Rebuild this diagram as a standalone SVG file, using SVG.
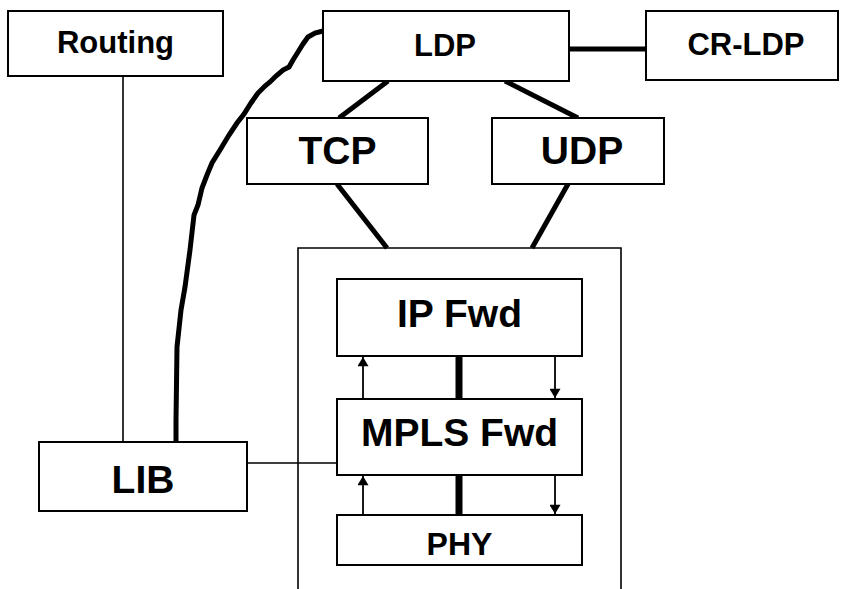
<svg xmlns="http://www.w3.org/2000/svg" width="845" height="589" viewBox="0 0 845 589">
<defs>
<style>
.box{fill:#fff;stroke:#000;stroke-width:2}
.t{font-family:"Liberation Sans",Arial,sans-serif;font-weight:bold;fill:#000;text-anchor:middle}
.s{font-size:31px}
.l{font-size:39px}
.p{font-size:32px}
.thin{stroke:#000;stroke-width:1.6;fill:none}
.thick{stroke:#000;stroke-width:5;fill:none}
.bar{stroke:#000;stroke-width:7;fill:none}
.arr{stroke:#000;stroke-width:1.8;fill:none}
</style>
<marker id="ah" viewBox="0 0 10 12" refX="10" refY="6" markerWidth="11" markerHeight="11" markerUnits="userSpaceOnUse" orient="auto">
<path d="M0,0 L10,6 L0,12 Z" fill="#000"/>
</marker>
</defs>
<rect width="845" height="589" fill="#fff"/>
<g id="connectors">
<line class="thin" x1="123" y1="76" x2="123" y2="442"/>
<line class="thin" x1="247" y1="463" x2="337" y2="463"/>
<line class="thick" x1="569" y1="49" x2="646" y2="49"/>
<line class="thick" x1="388" y1="81" x2="339" y2="118"/>
<line class="thick" x1="505" y1="81" x2="578" y2="118"/>
<line class="thick" x1="337" y1="184" x2="387" y2="248"/>
<line class="thick" x1="568" y1="184" x2="532" y2="248"/>
<path class="thick" d="M176,442 L176,420 L177,347 L181,310 L185,287 L190,250 L194,215 L198,205 L202,188 L207,175 L212,163 L220,150 L229,135 L237,123 L244,114 L251,103 L258,93 L265,86 L270,82 L276,76 L283,70 L289,67 L293,60 L298,52 L303,44 L308,37 L315,33 L323,31"/>
<line class="bar" x1="459" y1="356" x2="459" y2="399"/>
<line class="bar" x1="459" y1="475" x2="459" y2="515"/>
<line class="arr" x1="363" y1="399" x2="363" y2="357" marker-end="url(#ah)"/>
<line class="arr" x1="555" y1="356" x2="555" y2="398" marker-end="url(#ah)"/>
<line class="arr" x1="363" y1="515" x2="363" y2="476" marker-end="url(#ah)"/>
<line class="arr" x1="555" y1="475" x2="555" y2="514" marker-end="url(#ah)"/>
</g>
<g id="container">
<path class="thin" d="M298,589 L298,248 L621,248 L621,589" stroke-width="2"/>
</g>
<g id="routing">
<rect class="box" x="8" y="11" width="215" height="65"/>
<text class="t s" x="115.5" y="53">Routing</text>
</g>
<g id="ldp">
<rect class="box" x="323" y="11" width="246" height="70"/>
<text class="t s" x="445" y="56">LDP</text>
</g>
<g id="crldp">
<rect class="box" x="646" y="11" width="192" height="69"/>
<text class="t s" x="746" y="55">CR-LDP</text>
</g>
<g id="tcp">
<rect class="box" x="247" y="118" width="181" height="66"/>
<text class="t l" x="337.5" y="164">TCP</text>
</g>
<g id="udp">
<rect class="box" x="492" y="118" width="172" height="66"/>
<text class="t l" x="582" y="164">UDP</text>
</g>
<g id="ipfwd">
<rect class="box" x="337" y="279" width="245" height="77"/>
<text class="t l" x="459.5" y="327">IP Fwd</text>
</g>
<g id="mplsfwd">
<rect class="box" x="337" y="399" width="245" height="76"/>
<text class="t l" x="459.5" y="446">MPLS Fwd</text>
</g>
<g id="phy">
<rect class="box" x="337" y="515" width="245" height="50"/>
<text class="t p" x="459.5" y="555">PHY</text>
</g>
<g id="lib">
<rect class="box" x="39" y="442" width="208" height="69"/>
<text class="t l" x="143" y="493">LIB</text>
</g>
</svg>
